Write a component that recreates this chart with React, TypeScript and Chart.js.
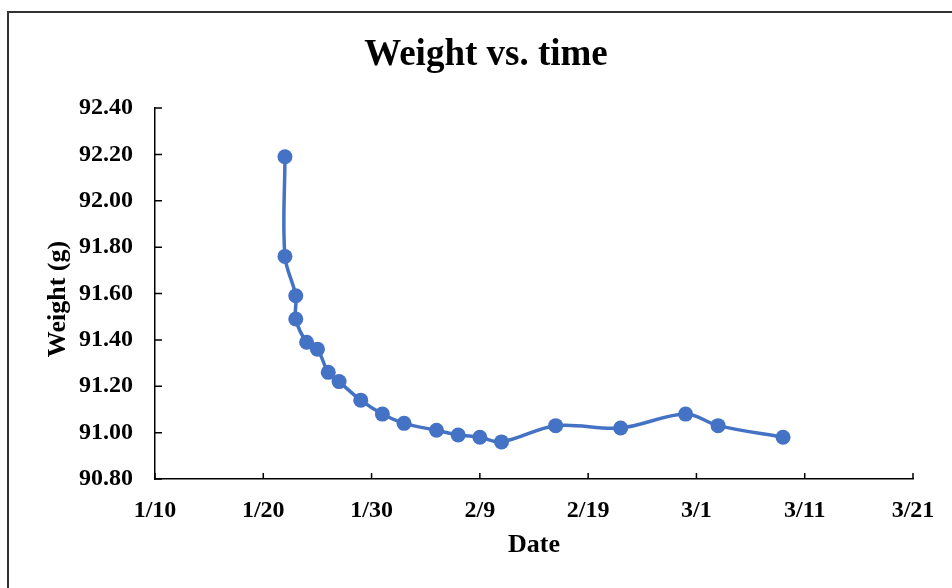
import React, { useEffect, useRef } from "react";
import { Chart, registerables } from "chart.js";

Chart.register(...registerables);

// ---- data ----
const dates = [
  "1/22", "1/22", "1/23", "1/23", "1/24", "1/25", "1/26", "1/27", "1/29", "1/31",
  "2/2", "2/5", "2/7", "2/9", "2/11", "2/16", "2/22", "2/28", "3/3", "3/9",
];
const weights = [
  92.19, 91.76, 91.59, 91.49, 91.39, 91.36, 91.26, 91.22, 91.14, 91.08,
  91.04, 91.01, 90.99, 90.98, 90.96, 91.03, 91.02, 91.08, 91.03, 90.98,
];
const xTickStart = "1/10";
const xTickEnd = "3/21";
const xTickStepDays = 10;
const yTickMin = 90.8;
const yTickMax = 92.4;
const yTickStep = 0.2;
const chartTitle = "Weight vs. time";
const xAxisTitle = "Date";
const yAxisTitle = "Weight (g)";

// non-leap year month offsets
const monthStart = [0, 31, 59, 90, 120, 151, 181, 212, 243, 273, 304, 334];
function toDay(s: string): number {
  const [m, d] = s.split("/").map(Number);
  return monthStart[m - 1] + d;
}
function fromDay(n: number): string {
  let m = 0;
  while (m < 11 && n > monthStart[m + 1]) m++;
  return `${m + 1}/${n - monthStart[m]}`;
}

const SERIF = "'Liberation Serif', 'Times New Roman', serif";
const BLUE = "#4472C4";

const inwardTicks = {
  id: "inwardTicks",
  beforeDatasetsDraw(chart: any) {
    const { ctx, chartArea, scales } = chart;
    const { left, bottom } = chartArea;
    const x = scales.x;
    const y = scales.y;
    ctx.save();
    ctx.strokeStyle = "#000";
    ctx.lineWidth = 1.5;
    ctx.beginPath();
    x.ticks.forEach((t: any) => {
      const px = x.getPixelForValue(t.value);
      ctx.moveTo(px, bottom);
      ctx.lineTo(px, bottom - 6);
    });
    y.ticks.forEach((t: any) => {
      const py = y.getPixelForValue(t.value);
      ctx.moveTo(left, py);
      ctx.lineTo(left + 7, py);
    });
    ctx.stroke();
    ctx.restore();
  },
};

// Chart title and y-axis title drawn where the reference places them
const frameTexts = {
  id: "frameTexts",
  afterDraw(chart: any) {
    const { ctx } = chart;
    ctx.save();
    ctx.fillStyle = "#000";
    ctx.textAlign = "center";
    ctx.textBaseline = "middle";
    ctx.font = `bold 37px ${SERIF}`;
    ctx.fillText(chartTitle, 486, 55);
    ctx.translate(58, 299);
    ctx.rotate(-Math.PI / 2);
    ctx.font = `bold 26px ${SERIF}`;
    ctx.fillText(yAxisTitle, 0, 0);
    ctx.restore();
  },
};

export default function App() {
  const canvasRef = useRef<HTMLCanvasElement | null>(null);

  useEffect(() => {
    const canvas = canvasRef.current;
    if (!canvas) return;
    const points = dates.map((d, i) => ({ x: toDay(d), y: weights[i] }));
    const chart = new Chart(canvas, {
      type: "scatter",
      data: {
        datasets: [
          {
            data: points,
            showLine: true,
            borderColor: BLUE,
            backgroundColor: BLUE,
            borderWidth: 3.5,
            pointRadius: 7.5,
            pointHoverRadius: 7.5,
            pointBorderWidth: 0,
            tension: 0.35,
          },
        ],
      },
      options: {
        animation: false,
        responsive: false,
        devicePixelRatio: 1,
        layout: { padding: { left: 30, top: 108, right: 39, bottom: 10 } },
        plugins: {
          legend: { display: false },
          tooltip: { enabled: false },
          title: { display: false },
        },
        scales: {
          x: {
            type: "linear",
            min: toDay(xTickStart),
            max: toDay(xTickEnd),
            grid: { display: false, drawTicks: false },
            border: { display: true, color: "#000", width: 1.5 },
            ticks: {
              stepSize: xTickStepDays,
              color: "#000",
              padding: 17,
              font: { family: SERIF, size: 24, weight: "bold" },
              callback: (v: any) => fromDay(Number(v)),
              maxRotation: 0,
            },
            title: {
              display: true,
              text: xAxisTitle,
              color: "#000",
              font: { family: SERIF, size: 26, weight: "bold" },
              padding: { top: 0, bottom: 17 },
            },
            afterFit: (scale: any) => {
              scale.height = 588 - 10 - 479;
            },
          },
          y: {
            min: yTickMin,
            max: yTickMax,
            grid: { display: false, drawTicks: false },
            border: { display: true, color: "#000", width: 1.5 },
            ticks: {
              stepSize: yTickStep,
              color: "#000",
              padding: 22,
              font: { family: SERIF, size: 24, weight: "bold" },
              callback: (v: any) => Number(v).toFixed(2),
            },
            title: { display: false },
            afterFit: (scale: any) => {
              scale.width = 155 - 30;
            },
          },
        },
      },
      plugins: [inwardTicks, frameTexts],
    });
    return () => chart.destroy();
  }, []);

  return (
    <div
      style={{
        position: "absolute",
        left: 0,
        top: 0,
        width: 952,
        height: 588,
        overflow: "hidden",
        background: "#fff",
      }}
    >
      <div
        style={{
          position: "absolute",
          left: 7,
          top: 11,
          width: 1000,
          height: 700,
          border: "2px solid #333",
          boxSizing: "border-box",
        }}
      />
      <canvas
        ref={canvasRef}
        width={952}
        height={588}
        style={{ position: "absolute", left: 0, top: 0, width: 952, height: 588 }}
      />
    </div>
  );
}
